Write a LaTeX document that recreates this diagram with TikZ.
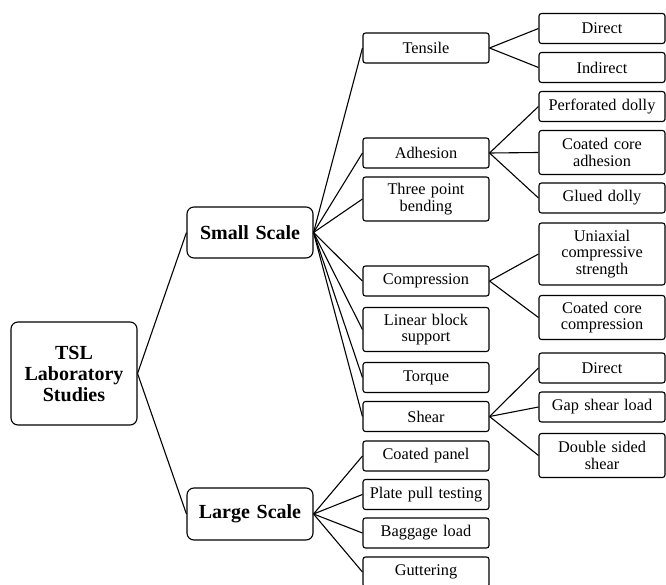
\documentclass[tikz,border=0pt]{standalone}
\usepackage{fontspec}
\setmainfont{Liberation Serif}
\begin{document}
\begin{tikzpicture}[x=1pt,y=-1pt,
  leaf/.style={draw, line width=1.1pt, rounded corners=2.5pt, minimum width=126pt, text width=124pt, align=center, inner sep=0pt, font=\fontsize{16.3}{16.8}\selectfont},
  one/.style={leaf, minimum height=30pt},
  two/.style={leaf, minimum height=44pt},
  three/.style={leaf, minimum height=62pt},
  big/.style={draw, line width=1.1pt, rounded corners=7pt, minimum width=126pt, text width=124pt, align=center, inner sep=0pt, font=\fontsize{20}{21}\selectfont\bfseries},
  link/.style={line width=1.1pt}]
\useasboundingbox (0,0) rectangle (666,585);
% root and level 1
\node[big, minimum height=103pt] (tsl) at (74,373.5) {TSL\\Laboratory\\Studies};
\node[big, minimum height=51pt] (small) at (250,232.5) {Small Scale};
\node[big, minimum height=52pt] (large) at (250,514) {Large Scale};
% level 2
\node[one] (tensile) at (426,48) {Tensile};
\node[one] (adhesion) at (426,153) {Adhesion};
\node[two] (three) at (426,199) {Three point\\bending};
\node[one] (compression) at (426,281) {Compression};
\node[two] (linear) at (426,329.5) {Linear block\\support};
\node[one] (torque) at (426,377.5) {Torque};
\node[one] (shear) at (426,416.5) {Shear};
\node[one] (panel) at (426,456) {Coated panel};
\node[one] (plate) at (426,494.5) {Plate pull testing};
\node[one] (baggage) at (426,533) {Baggage load};
\node[one] (gutter) at (426,572) {Guttering};
% level 3
\node[one] (tdirect) at (602,28.5) {Direct};
\node[one] (tindirect) at (602,67.5) {Indirect};
\node[one] (perf) at (602,106.5) {Perforated dolly};
\node[two] (ccadh) at (602,152.5) {Coated core\\adhesion};
\node[one] (glued) at (602,198) {Glued dolly};
\node[three] (uni) at (602,254) {Uniaxial\\compressive\\strength};
\node[two] (cccomp) at (602,317.5) {Coated core\\compression};
\node[one] (sdirect) at (602,368) {Direct};
\node[one] (gap) at (602,407) {Gap shear load};
\node[two] (double) at (602,455.5) {Double sided\\shear};
% connectors
\foreach \c in {small,large} \draw[link] (tsl.east) -- (\c.west);
\foreach \c in {tensile,adhesion,three,compression,linear,torque,shear} \draw[link] (small.east) -- (\c.west);
\foreach \c in {panel,plate,baggage,gutter} \draw[link] (large.east) -- (\c.west);
\foreach \c in {tdirect,tindirect} \draw[link] (tensile.east) -- (\c.west);
\foreach \c in {perf,ccadh,glued} \draw[link] (adhesion.east) -- (\c.west);
\foreach \c in {uni,cccomp} \draw[link] (compression.east) -- (\c.west);
\foreach \c in {sdirect,gap,double} \draw[link] (shear.east) -- (\c.west);
\end{tikzpicture}
\end{document}
